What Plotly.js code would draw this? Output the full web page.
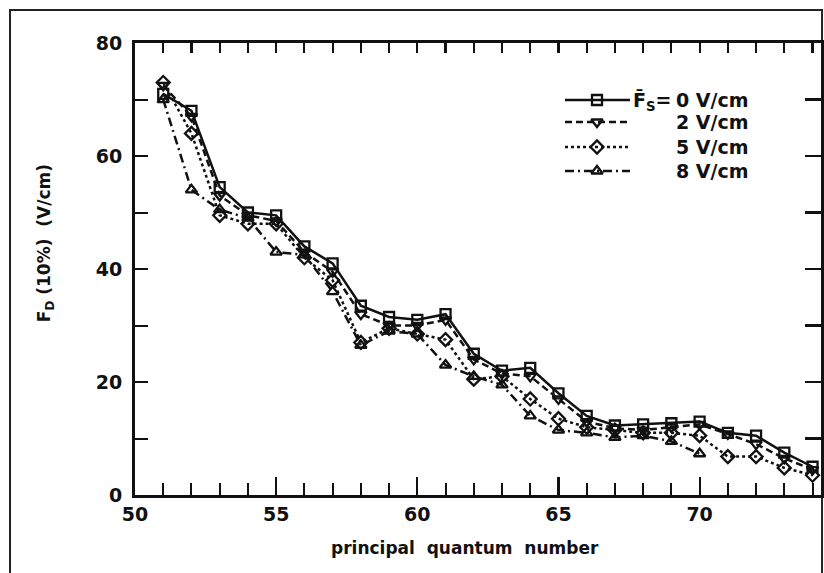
<!DOCTYPE html>
<html>
<head>
<meta charset="utf-8">
<script src="https://cdn.plot.ly/plotly-3.0.1.min.js"></script>
<style>
  html, body { margin: 0; padding: 0; background: #fff; }
  #chart { width: 824px; height: 573px; }
</style>
</head>
<body>
<div id="chart"></div>
<script>
// Principal quantum number of the Rydberg state
const nQuantum = [51, 52, 53, 54, 55, 56, 57, 58, 59, 60, 61, 62,
                  63, 64, 65, 66, 67, 68, 69, 70, 71, 72, 73, 74];

// Field for 10% ionisation, F_D (V/cm), at each static field F_s
const fs0 = [71, 68, 54.5, 50, 49.5, 44, 41, 33.5, 31.5, 31, 32, 25,
             22, 22.5, 18, 14, 12.3, 12.5, 12.7, 13, 11, 10.5, 7.5, 5];
const fs2 = [72.5, 67, 53, 49.5, 48.5, 43, 39.5, 32, 30, 30, 31, 24,
             21.5, 21, 17, 13, 11.8, 11.5, 12, 12.5, 10.8, 9, 6.5, 4.5];
const fs5 = [73, 64, 49.5, 48, 48, 42, 38, 27, 29.5, 28.5, 27.5, 20.5,
             21, 17, 13.5, 12, 11.5, 11, 11, 10.5, 6.8, 6.8, 4.8, 3.5];
const fs8 = [70, 54, 50.5, 49, 43, 42.5, 36, 26.5, 29, 28.5, 23, 21,
             19.5, 14, 11.5, 11, 10.2, 10.5, 9.5, 7.3];

const fieldLabels = ['0 V/cm', '2 V/cm', '5 V/cm', '8 V/cm'];
const xTickVals = [50, 55, 60, 65, 70];
const yTickVals = [0, 20, 40, 60, 80];

const FONT = 'DejaVu Sans';
const INK = '#111';
const X_RANGE = [50, 74.3];
const Y_RANGE = [0, 80];

const styles = [
  { symbol: 'square-open',        dash: 'solid' },
  { symbol: 'triangle-down-open', dash: '7px,4px' },
  { symbol: 'diamond-open',       dash: '3px,3px' },
  { symbol: 'triangle-up-open',   dash: '9px,4px,2px,4px' }
];
const series = [fs0, fs2, fs5, fs8];

const traces = series.map((ys, i) => ({
  x: nQuantum.slice(0, ys.length),
  y: ys,
  type: 'scatter',
  mode: 'lines+markers',
  name: fieldLabels[i],
  showlegend: false,
  cliponaxis: false,
  line: { color: INK, width: 2.5, dash: styles[i].dash },
  marker: { symbol: styles[i].symbol, size: 10, color: INK,
            line: { color: INK, width: 2.3 } }
}));

// Empty trace that brings up the top / right tick axes
traces.push({ x: [], y: [], xaxis: 'x3', yaxis: 'y3', type: 'scatter',
              mode: 'markers', showlegend: false, hoverinfo: 'skip' });

// Key: a short line segment with the marker in its middle, drawn on an
// overlay axis pair measured in screen pixels of the plot area.
const keyRows = [100, 122, 147, 171];
keyRows.forEach((py, i) => {
  traces.push({
    x: [565, 630], y: [py, py], xaxis: 'x2', yaxis: 'y2',
    type: 'scatter', mode: 'lines', showlegend: false, hoverinfo: 'skip',
    line: { color: INK, width: 2.5, dash: styles[i].dash }
  });
  traces.push({
    x: [597], y: [py], xaxis: 'x2', yaxis: 'y2',
    type: 'scatter', mode: 'markers', showlegend: false, hoverinfo: 'skip',
    marker: { symbol: styles[i].symbol, size: 10, color: INK,
              line: { color: INK, width: 2.3 } }
  });
});

const keyFont = { family: FONT, size: 19, color: INK, weight: 'bold' };
const annotations = keyRows.map((py, i) => ({
  xref: 'x2', yref: 'y2', x: 674, y: py, xanchor: 'left', yanchor: 'middle',
  text: fieldLabels[i], showarrow: false, font: keyFont
}));
annotations.push({
  xref: 'x2', yref: 'y2', x: 673, y: keyRows[0] + 1, xanchor: 'right', yanchor: 'middle',
  text: 'F\u0304<sub>S</sub>=', showarrow: false, font: keyFont
});
annotations.push({
  xref: 'paper', yref: 'paper', x: -0.131, y: 0.5575,
  xanchor: 'center', yanchor: 'middle', textangle: -90,
  text: 'F<sub>D</sub> (10%)  (V/cm)', showarrow: false,
  font: { family: FONT, size: 17, color: INK, weight: 'bold' }
});
annotations.push({
  xref: 'paper', yref: 'paper', x: 0.481, y: -0.117,
  xanchor: 'center', yanchor: 'middle',
  text: 'principal  quantum  number', showarrow: false,
  font: { family: FONT, size: 17, color: INK, weight: 'bold' }
});

const tickFont = { family: FONT, size: 19, color: INK, weight: 'bold' };

const layout = {
  width: 824, height: 573,
  margin: { l: 135, r: 3, t: 43, b: 78 },
  paper_bgcolor: '#fff', plot_bgcolor: '#fff',
  showlegend: false,
  xaxis: {
    range: X_RANGE, tickvals: xTickVals, ticktext: xTickVals.map(String),
    ticks: 'inside', ticklen: 18, tickwidth: 2.2, tickcolor: INK,
    minor: { dtick: 1, tick0: 50, ticks: 'inside', ticklen: 12, tickwidth: 2, tickcolor: INK },
    showline: true, linewidth: 3, linecolor: INK, mirror: true,
    showgrid: false, zeroline: false, tickfont: tickFont
  },
  yaxis: {
    range: Y_RANGE, tickvals: yTickVals, ticktext: yTickVals.map(String),
    ticks: 'inside', ticklen: 13, tickwidth: 2.2, tickcolor: INK,
    minor: { dtick: 10, tick0: 0, ticks: 'inside', ticklen: 13, tickwidth: 2, tickcolor: INK },
    showline: true, linewidth: 3, linecolor: INK, mirror: true,
    showgrid: false, zeroline: false, ticklabelstandoff: 6, tickfont: tickFont
  },
  // top and right edges: tick marks only
  xaxis3: {
    overlaying: 'x', side: 'top', range: X_RANGE, tick0: 50, dtick: 1,
    ticks: 'inside', ticklen: 10, tickwidth: 2.2, tickcolor: INK,
    showticklabels: false, showline: false, showgrid: false, zeroline: false
  },
  yaxis3: {
    overlaying: 'y', side: 'right', range: Y_RANGE, tick0: 0, dtick: 10,
    ticks: 'inside', ticklen: 16, tickwidth: 2.4, tickcolor: INK,
    showticklabels: false, showline: false, showgrid: false, zeroline: false
  },
  xaxis2: { overlaying: 'x', range: [135, 821], visible: false, fixedrange: true },
  yaxis2: { overlaying: 'y', range: [495, 43], visible: false, fixedrange: true },
  annotations: annotations,
  shapes: [{
    type: 'rect', xref: 'paper', yref: 'paper',
    x0: -0.1822, x1: 1.0015, y0: -0.2, y1: 1.073,
    line: { color: '#222', width: 2 }, fillcolor: 'rgba(0,0,0,0)', layer: 'below'
  }]
};

Plotly.newPlot('chart', traces, layout, { staticPlot: true, displayModeBar: false });
</script>
</body>
</html>
